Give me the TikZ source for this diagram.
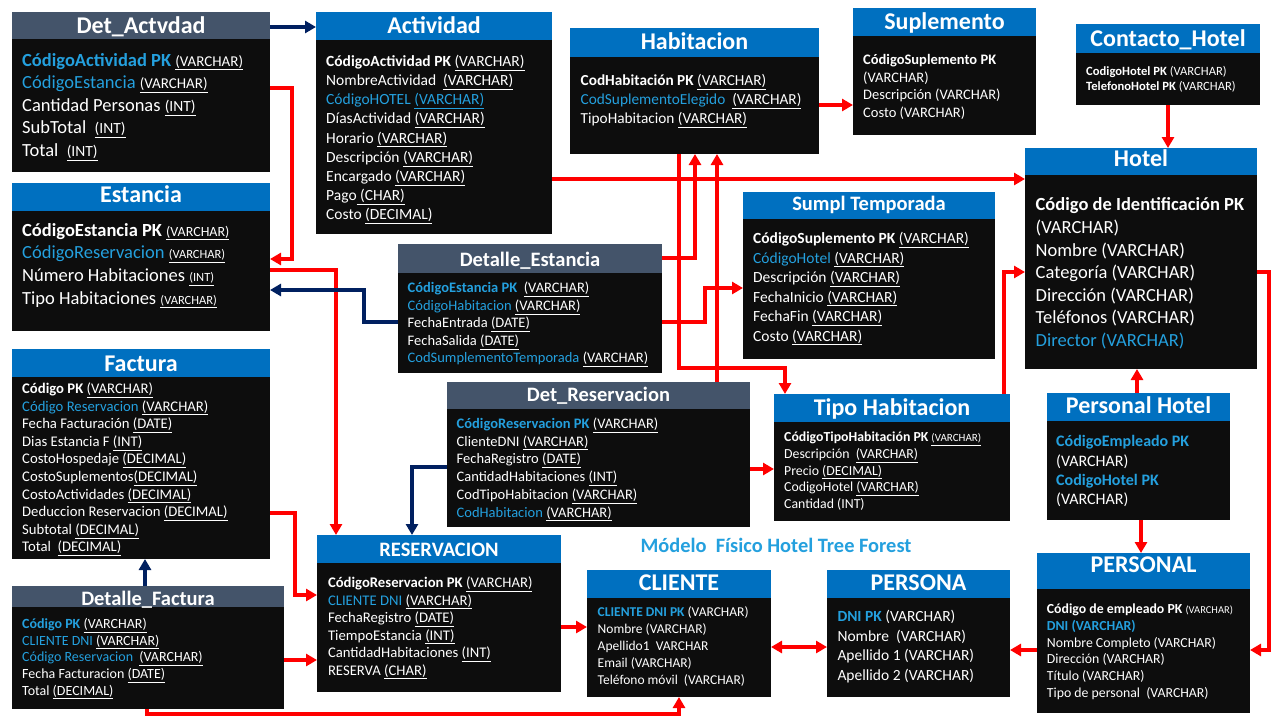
\documentclass[tikz,border=0pt]{standalone}
\usepackage{fontspec}
\setmainfont{Carlito}
\usetikzlibrary{arrows.meta}
\definecolor{hblue}{RGB}{0,112,192}
\definecolor{hgray}{RGB}{68,84,106}
\definecolor{bodyc}{RGB}{13,13,13}
\definecolor{fblue}{RGB}{36,160,222}
\definecolor{ared}{RGB}{255,0,0}
\definecolor{anavy}{RGB}{0,32,96}
\newcommand\ud[1]{\underline{#1}}
\newcommand\cb[1]{\textcolor{fblue}{#1}}
\newcommand\fs[1]{\fontsize{#1}{#1}\selectfont}
\begin{document}
\begin{tikzpicture}[x=1pt,y=-1pt,
 body/.style={anchor=north west,inner sep=0pt,outer sep=0pt,fill=bodyc,draw=none},
 hd/.style={anchor=north west,inner sep=0pt,outer sep=0pt,draw=none},
 ttl/.style={anchor=base,inner sep=0pt,text=white,font=\fontsize{24}{24}\selectfont\bfseries},
 ttls/.style={anchor=base,inner sep=0pt,text=white,font=\fontsize{20.5}{20.5}\selectfont\bfseries},
 fld/.style={anchor=north west,inner sep=0pt,text=white,align=left},
 ra/.style={draw=ared,line width=3.5pt,-{Triangle[length=11pt,width=12pt]}},
 rab/.style={draw=ared,line width=3.5pt,{Triangle[length=11pt,width=12pt]}-{Triangle[length=11pt,width=12pt]}},
 na/.style={draw=anavy,line width=3.5pt,-{Triangle[length=11pt,width=12pt]}},
]
\fill[white] (0,0) rectangle (1280,720);
\useasboundingbox (0,0) rectangle (1280,720);

% Det_Actvdad
\node[body,minimum width=258pt,minimum height=160pt] (detact) at (12,12) {};
\node[hd,fill=hgray,minimum width=258pt,minimum height=27pt] (detactH) at (12,12) {};
\node[ttl] (detactT) at (141,33) {Det\_Actvdad};
\node[fld,font=\fontsize{18.5}{22.5}\selectfont] (detactF) at (22,47.5) {\rule{0pt}{18.5pt}\cb{\textbf{CódigoActividad PK}} {\fs{15}\ud{(VARCHAR)}}\\
\cb{CódigoEstancia} {\fs{15}\ud{(VARCHAR)}}\\
Cantidad Personas {\fs{15.5}\ud{(INT)}}\\
SubTotal~ {\fs{15.5}\ud{(INT)}}\\
Total~ {\fs{15.5}\ud{(INT)}}};

% Actividad
\node[body,minimum width=236pt,minimum height=222pt] (act) at (316,12) {};
\node[hd,fill=hblue,minimum width=236pt,minimum height=28pt] (actH) at (316,12) {};
\node[ttl] (actT) at (434,34) {Actividad};
\node[fld,font=\fontsize{15.5}{19.2}\selectfont] (actF) at (326,50.5) {\rule{0pt}{15.5pt}\textbf{CódigoActividad PK} \ud{(VARCHAR)}\\
NombreActividad~ \ud{(VARCHAR)}\\
\cb{CódigoHOTEL \ud{(VARCHAR)}}\\
DíasActividad \ud{(VARCHAR)}\\
Horario \ud{(VARCHAR)}\\
Descripción \ud{(VARCHAR)}\\
Encargado \ud{(VARCHAR)}\\
Pago\ud{ (CHAR)}\\
Costo \ud{(DECIMAL)}};

% Estancia
\node[body,minimum width=258pt,minimum height=148pt] (est) at (12,183) {};
\node[hd,fill=hblue,minimum width=258pt,minimum height=28pt] (estH) at (12,183) {};
\node[ttl] (estT) at (141,202) {Estancia};
\node[fld,font=\fontsize{18.5}{22.7}\selectfont] (estF) at (22,217.5) {\rule{0pt}{18.5pt}\textbf{CódigoEstancia PK} {\fs{14}\ud{(VARCHAR)}}\\
\cb{CódigoReservacion} {\fs{12.5}\ud{(VARCHAR)}}\\
Número Habitaciones {\fs{12.5}\ud{(INT)}}\\
Tipo Habitaciones {\fs{12.5}\ud{(VARCHAR)}}};

% Factura
\node[body,minimum width=258pt,minimum height=210pt] (fac) at (12,349) {};
\node[hd,fill=hblue,minimum width=258pt,minimum height=28pt] (facH) at (12,349) {};
\node[ttl] (facT) at (141,371.7) {Factura};
\node[fld,font=\fontsize{14.7}{17.6}\selectfont] (facF) at (22,378.6) {\rule{0pt}{14.7pt}\textbf{Código PK} \ud{(VARCHAR)}\\
\cb{Código Reservacion} \ud{(VARCHAR)}\\
Fecha Facturación \ud{(DATE)}\\
Dias Estancia F \ud{(INT)}\\
CostoHospedaje \ud{(DECIMAL)}\\
CostoSuplementos\ud{(DECIMAL)}\\
CostoActividades \ud{(DECIMAL)}\\
Deduccion Reservacion \ud{(DECIMAL)}\\
Subtotal \ud{(DECIMAL)}\\
Total~ \ud{(DECIMAL)}};

% Detalle_Factura
\node[body,minimum width=272pt,minimum height=123pt] (detfac) at (12,586) {};
\node[hd,fill=hgray,minimum width=272pt,minimum height=21pt] (detfacH) at (12,586) {};
\node[ttls] (detfacT) at (148,605) {Detalle\_Factura};
\node[fld,font=\fontsize{14}{16.7}\selectfont] (detfacF) at (22,614.3) {\rule{0pt}{14pt}\cb{\textbf{Código PK}} \ud{(VARCHAR)}\\
\cb{CLIENTE DNI} \ud{(VARCHAR)}\\
\cb{Código Reservacion}~ \ud{(VARCHAR)}\\
Fecha Facturacion \ud{(DATE)}\\
Total \ud{(DECIMAL)}};

% Habitacion
\node[body,minimum width=249pt,minimum height=126pt] (hab) at (570,28) {};
\node[hd,fill=hblue,minimum width=249pt,minimum height=29pt] (habH) at (570,28) {};
\node[ttl] (habT) at (694.5,49.5) {Habitacion};
\node[fld,font=\fontsize{15.3}{19.1}\selectfont] (habF) at (580.5,69.7) {\rule{0pt}{15.3pt}\textbf{CodHabitación PK} \ud{(VARCHAR)}\\
\cb{CodSuplementoElegido}~ \ud{(VARCHAR)}\\
TipoHabitacion \ud{(VARCHAR)}};

% Suplemento
\node[body,minimum width=183pt,minimum height=127pt] (sup) at (853,8) {};
\node[hd,fill=hblue,minimum width=183pt,minimum height=28pt] (supH) at (853,8) {};
\node[ttl] (supT) at (944.5,29.5) {Suplemento};
\node[fld,font=\fontsize{14.5}{17.8}\selectfont] (supF) at (863,49.5) {\rule{0pt}{14.5pt}\textbf{CódigoSuplemento PK}\\
(VARCHAR)\\
Descripción (VARCHAR)\\
Costo (VARCHAR)};

% Contacto_Hotel
\node[body,minimum width=184pt,minimum height=81pt] (con) at (1076,24) {};
\node[hd,fill=hblue,minimum width=184pt,minimum height=28.5pt] (conH) at (1076,24) {};
\node[ttl] (conT) at (1168,46) {Contacto\_Hotel};
\node[fld,font=\fontsize{12.6}{15.3}\selectfont] (conF) at (1086,62.4) {\rule{0pt}{12.6pt}\textbf{CodigoHotel PK} (VARCHAR)\\
\textbf{TelefonoHotel PK} (VARCHAR)};

% Hotel
\node[body,minimum width=232pt,minimum height=221pt] (hot) at (1025,148) {};
\node[hd,fill=hblue,minimum width=232pt,minimum height=27pt] (hotH) at (1025,148) {};
\node[ttl] (hotT) at (1141,166) {Hotel};
\node[fld,font=\fontsize{18.5}{22.55}\selectfont] (hotF) at (1035.5,192.2) {\rule{0pt}{18.5pt}\textbf{Código de Identificación PK}\\
(VARCHAR)\\
Nombre (VARCHAR)\\
Categoría (VARCHAR)\\
Dirección (VARCHAR)\\
Teléfonos (VARCHAR)\\
\cb{Director (VARCHAR)}};

% Sumpl Temporada
\node[body,minimum width=252pt,minimum height=167pt] (spt) at (743,192) {};
\node[hd,fill=hblue,minimum width=252pt,minimum height=27pt] (sptH) at (743,192) {};
\node[ttls] (sptT) at (869,210) {Sumpl Temporada};
\node[fld,font=\fontsize{15.5}{19.5}\selectfont] (sptF) at (753,227.8) {\rule{0pt}{15.5pt}\textbf{CódigoSuplemento PK} \ud{(VARCHAR)}\\
\cb{CódigoHotel} \ud{(VARCHAR)}\\
Descripción \ud{(VARCHAR)}\\
FechaInicio \ud{(VARCHAR)}\\
FechaFin \ud{(VARCHAR)}\\
Costo \ud{(VARCHAR)}};

% Detalle_Estancia
\node[body,minimum width=264pt,minimum height=129pt] (dest) at (398,244) {};
\node[hd,fill=hgray,minimum width=264pt,minimum height=29pt] (destH) at (398,244) {};
\node[ttls] (destT) at (530,266.7) {Detalle\_Estancia};
\node[fld,font=\fontsize{14.5}{17.5}\selectfont] (destF) at (407.5,278.2) {\rule{0pt}{14.5pt}\cb{\textbf{CódigoEstancia PK}}~ \ud{(VARCHAR)}\\
\cb{CódigoHabitacion} \ud{(VARCHAR)}\\
FechaEntrada \ud{(DATE)}\\
FechaSalida \ud{(DATE)}\\
\cb{CodSumplementoTemporada} \ud{(VARCHAR)}};

% Det_Reservacion
\node[body,minimum width=303pt,minimum height=145pt] (dres) at (447,382) {};
\node[hd,fill=hgray,minimum width=303pt,minimum height=27pt] (dresH) at (447,382) {};
\node[ttls] (dresT) at (598.5,401.7) {Det\_Reservacion};
\node[fld,font=\fontsize{14.5}{17.7}\selectfont] (dresF) at (456.5,413.8) {\rule{0pt}{14.5pt}\cb{\textbf{CódigoReservacion PK}} \ud{(VARCHAR)}\\
ClienteDNI \ud{(VARCHAR)}\\
FechaRegistro \ud{(DATE)}\\
CantidadHabitaciones \ud{(INT)}\\
CodTipoHabitacion \ud{(VARCHAR)}\\
\cb{CodHabitacion} \ud{(VARCHAR)}};

% Tipo Habitacion
\node[body,minimum width=236pt,minimum height=127pt] (tip) at (774,394) {};
\node[hd,fill=hblue,minimum width=236pt,minimum height=28pt] (tipH) at (774,394) {};
\node[ttl] (tipT) at (892,415) {Tipo Habitacion};
\node[fld,font=\fontsize{13.8}{16.65}\selectfont] (tipF) at (784,427.9) {\rule{0pt}{13.8pt}\textbf{CódigoTipoHabitación PK} {\fs{11}\ud{(VARCHAR)}}\\
Descripción~ \ud{(VARCHAR)}\\
Precio \ud{(DECIMAL)}\\
CodigoHotel \ud{(VARCHAR)}\\
Cantidad (INT)};

% Personal Hotel
\node[body,minimum width=183pt,minimum height=127pt] (pho) at (1047,393) {};
\node[hd,fill=hblue,minimum width=183pt,minimum height=28pt] (phoH) at (1047,393) {};
\node[ttl] (phoT) at (1138.5,413) {Personal Hotel};
\node[fld,font=\fontsize{16}{19.2}\selectfont] (phoF) at (1056,430.7) {\rule{0pt}{16pt}\cb{\textbf{CódigoEmpleado PK}}\\
(VARCHAR)\\
\cb{\textbf{CodigoHotel PK}}\\
(VARCHAR)};

% RESERVACION
\node[body,minimum width=244pt,minimum height=157pt] (res) at (317,535) {};
\node[hd,fill=hblue,minimum width=244pt,minimum height=28pt] (resH) at (317,535) {};
\node[ttls] (resT) at (439,556.7) {RESERVACION};
\node[fld,font=\fontsize{14.7}{17.55}\selectfont] (resF) at (327.8,572.6) {\rule{0pt}{14.7pt}\textbf{CódigoReservacion PK} \ud{(VARCHAR)}\\
\cb{CLIENTE DNI} \ud{(VARCHAR)}\\
FechaRegistro \ud{(DATE)}\\
TiempoEstancia \ud{(INT)}\\
CantidadHabitaciones \ud{(INT)}\\
RESERVA \ud{(CHAR)}};

% CLIENTE
\node[body,minimum width=184pt,minimum height=127pt] (cli) at (587,570) {};
\node[hd,fill=hblue,minimum width=184pt,minimum height=28pt] (cliH) at (587,570) {};
\node[ttl] (cliT) at (679,590) {CLIENTE};
\node[fld,font=\fontsize{13.5}{16.8}\selectfont] (cliF) at (597.5,603.2) {\rule{0pt}{13.5pt}\cb{\textbf{CLIENTE DNI PK}} (VARCHAR)\\
Nombre (VARCHAR)\\
Apellido1~ VARCHAR\\
Email (VARCHAR)\\
Teléfono móvil~ (VARCHAR)};

% PERSONA
\node[body,minimum width=183pt,minimum height=127pt] (per) at (827,570) {};
\node[hd,fill=hblue,minimum width=183pt,minimum height=28pt] (perH) at (827,570) {};
\node[ttl] (perT) at (918.5,590.7) {PERSONA};
\node[fld,font=\fontsize{15.5}{19.4}\selectfont] (perF) at (837.3,606.2) {\rule{0pt}{15.5pt}\cb{\textbf{DNI PK}} (VARCHAR)\\
Nombre~ (VARCHAR)\\
Apellido 1 (VARCHAR)\\
Apellido 2 (VARCHAR)};

% PERSONAL
\node[body,minimum width=213pt,minimum height=160pt] (pnl) at (1037,553) {};
\node[hd,fill=hblue,minimum width=213pt,minimum height=36pt] (pnlH) at (1037,553) {};
\node[ttl] (pnlT) at (1143.5,572.7) {PERSONAL};
\node[fld,font=\fontsize{13.8}{16.8}\selectfont] (pnlF) at (1046.7,599.5) {\rule{0pt}{13.8pt}\textbf{Código de empleado PK} {\fs{10.5}(VARCHAR)}\\
\cb{\textbf{DNI (VARCHAR)}}\\
Nombre Completo (VARCHAR)\\
Dirección (VARCHAR)\\
Título (VARCHAR)\\
Tipo de personal~ (VARCHAR)};

% caption
\node[anchor=base,inner sep=0pt,text=fblue,font=\fontsize{20.4}{20.4}\selectfont\bfseries] (cap) at (776,552.7) {Módelo~ Físico Hotel Tree Forest};

% connectors
\draw[na] ([yshift=-15pt]detact.north east) -- ([yshift=-15pt]act.north west);
\draw[ra] ([yshift=-76pt]detact.north east) -- (292,88) -- (292,259) -- ([yshift=-76pt]est.north east);
\draw[ra] ([yshift=-87pt]est.north east) -- (336,270) -- ([xshift=19pt]res.north west);
\draw[na] ([yshift=-78pt]dest.north west) -- (364,322) -- (364,290) -- ([yshift=-107pt]est.north east);
\draw[ra] ([yshift=-167pt]act.north east) -- ([yshift=-31pt]hot.north west);
\draw[ra] ([yshift=-77pt]hab.north east) -- ([yshift=-97pt]sup.north west);
\draw[ra] ([yshift=-14pt]dest.north east) -- (695,258) -- ([xshift=125pt]hab.south west);
\draw[ra] ([xshift=109pt]hab.south west) -- (679,368) -- (785,368) -- ([xshift=11pt]tip.north west);
\draw[ra] ([xshift=270pt]dres.north west) -- ([xshift=147pt]hab.south west);
\draw[ra] ([yshift=-78pt]dest.north east) -- (705,322) -- (705,288) -- ([yshift=-96pt]spt.north west);
\draw[ra] ([xshift=230pt]tip.north west) -- (1004,272) -- ([yshift=-124pt]hot.north west);
\draw[ra] ([yshift=-124pt]hot.north east) -- (1269,272) -- (1269,650) -- ([yshift=-97pt]pnl.north east);
\draw[ra] ([xshift=92pt]con.south west) -- ([xshift=143pt]hot.north west);
\draw[ra] ([xshift=90pt]pho.north west) -- ([xshift=112pt]hot.south west);
\draw[ra] ([xshift=94pt]pho.south west) -- ([xshift=104pt]pnl.north west);
\draw[ra] ([yshift=-97pt]pnl.north west) -- ([yshift=-80pt]per.north east);
\draw[rab] ([yshift=-77pt]cli.north east) -- ([yshift=-77pt]per.north west);
\draw[ra] ([yshift=-92pt]res.north east) -- ([yshift=-57pt]cli.north west);
\draw[ra] ([yshift=-87pt]dres.north east) -- ([yshift=-75pt]tip.north west);
\draw[na] ([yshift=-85pt]dres.north west) -- (412,467) -- ([xshift=95pt]res.north west);
\draw[na] ([xshift=133pt]detfac.north west) -- ([xshift=133pt]fac.south west);
\draw[ra] ([yshift=-164pt]fac.north east) -- (295,513) -- (295,595) -- ([yshift=-60pt]res.north west);
\draw[ra] ([yshift=-74pt]detfac.north east) -- ([yshift=-125pt]res.north west);
\draw[ra] ([xshift=135pt]detfac.south west) -- (147,714) -- (679,714) -- ([xshift=92pt]cli.south west);
\end{tikzpicture}
\end{document}
